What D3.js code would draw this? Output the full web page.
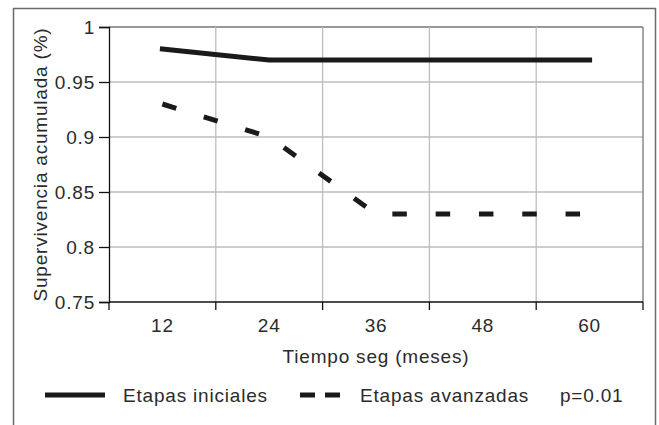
<!DOCTYPE html>
<html>
<head>
<meta charset="utf-8">
<script src="https://cdn.jsdelivr.net/npm/d3@7"></script>
<style>
  html, body { margin: 0; padding: 0; background: #fff; }
  svg text { font-family: "Liberation Sans", Arial, sans-serif; fill: #2b2b2b; }
</style>
</head>
<body>
<svg id="chart" width="659" height="425"></svg>
<script>
// Follow-up months (categories)
const months = ["12", "24", "36", "48", "60"];
// Cumulative survival by stage
const etapasIniciales = [0.98, 0.97, 0.97, 0.97, 0.97];
const etapasAvanzadas = [0.93, 0.90, 0.83, 0.83, 0.83];
// Y axis ticks
const yTicks = [0.75, 0.8, 0.85, 0.9, 0.95, 1];
const yTickLabels = ["0.75", "0.8", "0.85", "0.9", "0.95", "1"];

const svg = d3.select("#chart");
const W = 659, H = 425;
const m = { left: 109, top: 27, right: 643, bottom: 302 };
const fs = 19, ls = 0.8;

// Outer frame (open at the bottom)
svg.append("path")
  .attr("d", `M13.5,${H + 2} V8.5 H655.5 V${H + 2}`)
  .attr("fill", "none").attr("stroke", "#6a6a6a").attr("stroke-width", 1.5);

const x = d3.scaleBand().domain(months).range([m.left, m.right]).padding(0);
const y = d3.scaleLinear().domain([0.75, 1]).range([m.bottom, m.top]);

const g = svg.append("g");

// Horizontal gridlines
g.selectAll(".hgrid").data(yTicks.filter(d => d > 0.75)).join("line")
  .attr("x1", m.left).attr("x2", m.right)
  .attr("y1", d => y(d)).attr("y2", d => y(d))
  .attr("stroke", d => d === 1 ? "#777" : "#bdbdbd").attr("stroke-width", 1.3);

// Vertical gridlines at category boundaries
const bounds = months.map(d => x(d)).concat([m.right]);
g.selectAll(".vgrid").data(bounds.slice(1)).join("line")
  .attr("x1", d => d).attr("x2", d => d)
  .attr("y1", m.top).attr("y2", m.bottom)
  .attr("stroke", (d, i) => i === bounds.length - 2 ? "#777" : "#bdbdbd").attr("stroke-width", 1.3);

// Y axis
const yAxis = d3.axisLeft(y).tickValues(yTicks)
  .tickFormat((d, i) => yTickLabels[i]).tickSize(10).tickPadding(4);
const ya = svg.append("g").attr("transform", `translate(${m.left},0)`).call(yAxis);
ya.select(".domain").attr("stroke", "#111").attr("stroke-width", 1.3);
ya.selectAll(".tick line").attr("stroke", "#111").attr("stroke-width", 1.3);
ya.selectAll(".tick text").style("font-size", fs + "px").style("letter-spacing", ls + "px")
  .style("font-family", "Liberation Sans, Arial, sans-serif").attr("fill", "#2b2b2b").attr("dy", "0.34em");

// X axis: ticks at category boundaries, labels centred in bands
const xa = svg.append("g").attr("transform", `translate(0,${m.bottom})`);
xa.append("line").attr("x1", m.left).attr("x2", m.right).attr("y1", 0).attr("y2", 0)
  .attr("stroke", "#111").attr("stroke-width", 1.3);
xa.selectAll(".xt").data(bounds).join("line")
  .attr("x1", d => d).attr("x2", d => d).attr("y1", 0).attr("y2", 8)
  .attr("stroke", "#111").attr("stroke-width", 1.3);
xa.selectAll(".xl").data(months).join("text")
  .attr("x", d => x(d) + x.bandwidth() / 2).attr("y", 30)
  .attr("text-anchor", "middle")
  .style("font-size", fs + "px").style("letter-spacing", ls + "px")
  .text(d => d);

// Axis titles
svg.append("text")
  .attr("x", (m.left + m.right) / 2).attr("y", 363)
  .attr("text-anchor", "middle")
  .style("font-size", fs + "px").style("letter-spacing", ls + "px")
  .text("Tiempo seg (meses)");
svg.append("text")
  .attr("transform", `translate(47,${(m.top + m.bottom) / 2}) rotate(-90)`)
  .attr("text-anchor", "middle")
  .style("font-size", fs + "px").style("letter-spacing", ls + "px")
  .text("Supervivencia acumulada (%)");

// Series lines
const line = d3.line()
  .x((d, i) => x(months[i]) + x.bandwidth() / 2)
  .y(d => y(d));

svg.append("path").datum(etapasIniciales)
  .attr("d", line).attr("fill", "none")
  .attr("stroke", "#1a1a1a").attr("stroke-width", 5).attr("stroke-linecap", "square");

svg.append("path").datum(etapasAvanzadas)
  .attr("d", line).attr("fill", "none")
  .attr("stroke", "#1a1a1a").attr("stroke-width", 5)
  .attr("stroke-dasharray", "14.5,28.8");

// Legend
const leg = svg.append("g");
leg.append("line").attr("x1", 45).attr("x2", 105).attr("y1", 395).attr("y2", 395)
  .attr("stroke", "#1a1a1a").attr("stroke-width", 5);
leg.append("text").attr("x", 123).attr("y", 402)
  .style("font-size", fs + "px").style("letter-spacing", ls + "px").text("Etapas iniciales");
leg.append("line").attr("x1", 300).attr("x2", 340).attr("y1", 395).attr("y2", 395)
  .attr("stroke", "#1a1a1a").attr("stroke-width", 5).attr("stroke-dasharray", "15,10");
leg.append("text").attr("x", 360).attr("y", 402)
  .style("font-size", fs + "px").style("letter-spacing", ls + "px").text("Etapas avanzadas");
leg.append("text").attr("x", 560).attr("y", 402)
  .style("font-size", fs + "px").style("letter-spacing", ls + "px").text("p=0.01");
</script>
</body>
</html>
